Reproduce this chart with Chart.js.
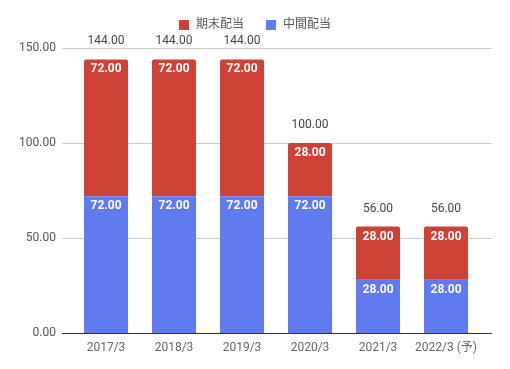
<!DOCTYPE html>
<html lang="ja">
<head>
<meta charset="UTF-8">
<title>配当推移</title>
<style>
  body { margin: 0; background: #fff; }
</style>
</head>
<body>
<canvas id="divChart" width="510" height="369"></canvas>
<script src="https://cdn.jsdelivr.net/npm/chart.js"></script>
<script>
// 決算期
const categories = ['2017/3', '2018/3', '2019/3', '2020/3', '2021/3', '2022/3 (予)'];
// 中間配当 / 期末配当
const interimDiv = [72, 72, 72, 72, 28, 28];
const yearEndDiv = [72, 72, 72, 28, 28, 28];
const yTicks = [0, 50, 100, 150];

const FONT = "Roboto, 'Noto Sans CJK JP', sans-serif";
const RED = '#cc4236';
const BLUE = '#607af0';

// 目盛線（左右に少しはみ出す）
const gridPlugin = {
    id: 'grid',
    beforeDatasetsDraw(chart) {
        const { ctx, chartArea, scales } = chart;
        ctx.save();
        ctx.lineWidth = 1;
        yTicks.forEach(v => {
            const py = Math.round(scales.y.getPixelForValue(v)) + 0.5;
            ctx.strokeStyle = v === 0 ? '#333' : '#ccc';
            ctx.beginPath();
            ctx.moveTo(chartArea.left - 10, py);
            ctx.lineTo(chartArea.right + 12, py);
            ctx.stroke();
        });
        ctx.restore();
    }
};

// 値ラベルと合計
const labelPlugin = {
    id: 'labels',
    afterDatasetsDraw(chart) {
        const { ctx } = chart;
        ctx.save();
        ctx.textAlign = 'center';
        ctx.textBaseline = 'middle';
        chart.data.datasets.forEach((ds, i) => {
            const meta = chart.getDatasetMeta(i);
            meta.data.forEach((bar, j) => {
                ctx.fillStyle = '#fff';
                ctx.font = 'bold 12px ' + FONT;
                ctx.fillText(ds.data[j].toFixed(2), bar.x, bar.y + 10);
            });
        });
        const top = chart.getDatasetMeta(1);
        top.data.forEach((bar, j) => {
            ctx.fillStyle = '#444';
            ctx.font = '12px ' + FONT;
            ctx.fillText((interimDiv[j] + yearEndDiv[j]).toFixed(2), bar.x, bar.y - 18);
        });
        ctx.restore();
    }
};

// 凡例（期末配当 → 中間配当の順）
const legendPlugin = {
    id: 'topLegend',
    afterDraw(chart) {
        const { ctx, width } = chart;
        const items = chart.data.datasets.slice().reverse();
        ctx.save();
        ctx.font = '12px ' + FONT;
        ctx.textBaseline = 'middle';
        const box = 10, gap = 7, itemGap = 22, cy = 25;
        const widths = items.map(d => box + gap + ctx.measureText(d.label).width);
        const total = widths.reduce((a, b) => a + b, 0) + itemGap * (items.length - 1);
        let x = (width - total) / 2;
        items.forEach((d, i) => {
            ctx.fillStyle = d.backgroundColor;
            ctx.fillRect(x, cy - box / 2, box, box);
            ctx.fillStyle = '#555';
            ctx.fillText(d.label, x + box + gap, cy);
            x += widths[i] + itemGap;
        });
        ctx.restore();
    }
};

new Chart(document.getElementById('divChart'), {
    type: 'bar',
    data: {
        labels: categories,
        datasets: [
            { label: '中間配当', data: interimDiv, backgroundColor: BLUE, borderRadius: 2 },
            { label: '期末配当', data: yearEndDiv, backgroundColor: RED, borderRadius: 2 }
        ]
    },
    options: {
        responsive: false,
        animation: false,
        datasets: { bar: { categoryPercentage: 1, barPercentage: 0.647 } },
        layout: { padding: { top: 48, left: 0, right: 0, bottom: 0 } },
        plugins: {
            legend: { display: false },
            tooltip: { enabled: false }
        },
        scales: {
            x: {
                stacked: true,
                grid: { display: false },
                border: { display: false },
                ticks: { color: '#666', padding: 0, font: { family: FONT, size: 12 } },
                afterFit: s => { s.height = 36; }
            },
            y: {
                stacked: true,
                min: 0, max: 150,
                afterBuildTicks: s => { s.ticks = yTicks.map(v => ({ value: v })); },
                grid: { display: false },
                border: { display: false },
                ticks: {
                    color: '#555', padding: 8,
                    font: { family: FONT, size: 12 },
                    callback: v => v.toFixed(2)
                },
                afterFit: s => { s.width = 72; }
            },
            yRight: {
                position: 'right',
                grid: { display: false },
                border: { display: false },
                ticks: { display: false },
                afterFit: s => { s.width = 30; }
            }
        }
    },
    plugins: [gridPlugin, labelPlugin, legendPlugin]
});
</script>
</body>
</html>
